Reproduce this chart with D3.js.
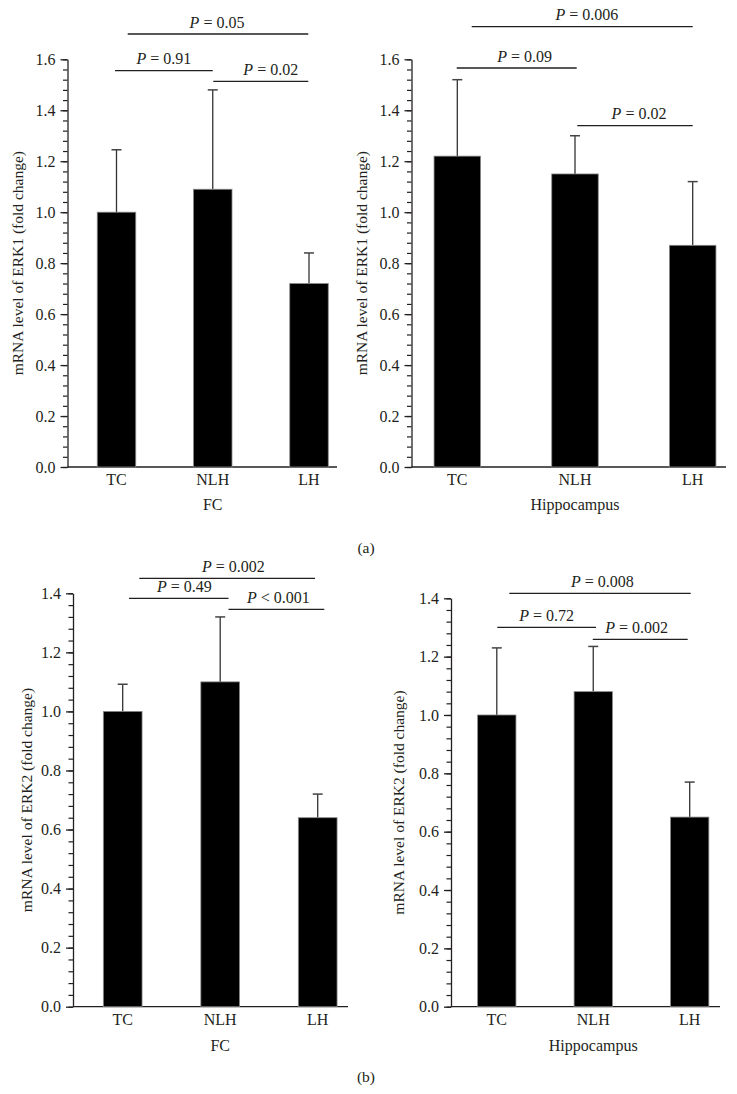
<!DOCTYPE html>
<html><head><meta charset="utf-8">
<script src="https://cdn.jsdelivr.net/npm/d3@7"></script>
<style>
body{margin:0;background:#fff}
svg{display:block}
text{font-family:"Liberation Serif","Times New Roman",serif;fill:#231f20}
</style>
</head><body>
<svg id="chart" width="737" height="1094"></svg>
<script>
// ---------------- data ----------------
const categories = ["TC", "NLH", "LH"];

const erk1FcMean  = [1.00, 1.09, 0.72];
const erk1FcSD    = [0.245, 0.39, 0.12];
const erk1HipMean = [1.22, 1.15, 0.87];
const erk1HipSD   = [0.30, 0.15, 0.25];
const erk2FcMean  = [1.00, 1.10, 0.64];
const erk2FcSD    = [0.092, 0.22, 0.08];
const erk2HipMean = [1.00, 1.08, 0.65];
const erk2HipSD   = [0.23, 0.155, 0.12];

const yTicksA = [0.0, 0.2, 0.4, 0.6, 0.8, 1.0, 1.2, 1.4, 1.6];
const yTicksB = [0.0, 0.2, 0.4, 0.6, 0.8, 1.0, 1.2, 1.4];

const comparePairs = [[0, 1], [1, 2], [0, 2]];
const erk1FcP  = ["= 0.91", "= 0.02", "= 0.05"];
const erk1HipP = ["= 0.09", "= 0.02", "= 0.006"];
const erk2FcP  = ["= 0.49", "< 0.001", "= 0.002"];
const erk2HipP = ["= 0.72", "= 0.002", "= 0.008"];

const yTitles = ["mRNA level of ERK1 (fold change)", "mRNA level of ERK2 (fold change)"];
const xTitles = ["FC", "Hippocampus"];
const panelTags = ["(a)", "(b)"];

// ---------------- layout ----------------
const panels = [
  {mean: erk1FcMean, sd: erk1FcSD, ticks: yTicksA, p: erk1FcP, yTitle: yTitles[0], xTitle: xTitles[0],
   axisX: 67.5, yTop: 59.3, y0: 467, xEnd: 337, c0: 116.5, c2: 309, barW: 38.5, titleX: 23,
   catY: 485, xTitleY: 510,
   br: [{y: 70.7, a: -1.5, b: 0, t: 0}, {y: 81.3, a: 0.5, b: -0.7, t: 10}, {y: 34, a: 11.2, b: -0.7, t: -1}]},
  {mean: erk1HipMean, sd: erk1HipSD, ticks: yTicksA, p: erk1HipP, yTitle: yTitles[0], xTitle: xTitles[1],
   axisX: 411.5, yTop: 59.3, y0: 467, xEnd: 726, c0: 457.3, c2: 692.7, barW: 46.5, titleX: 367,
   catY: 485, xTitleY: 510,
   br: [{y: 68, a: -0.6, b: 1.7, t: 8}, {y: 125.7, a: 2.3, b: 0, t: 4}, {y: 26.7, a: 14.4, b: 0, t: 4.7}]},
  {mean: erk2FcMean, sd: erk2FcSD, ticks: yTicksB, p: erk2FcP, yTitle: yTitles[1], xTitle: xTitles[0],
   axisX: 73, yTop: 593.3, y0: 1006.7, xEnd: 348, c0: 122.7, c2: 317.7, barW: 38.7, titleX: 32,
   catY: 1025, xTitleY: 1051,
   br: [{y: 598.3, a: 6.3, b: 8.3, t: 5.6}, {y: 609.3, a: 8.3, b: 6.6, t: 2}, {y: 578.3, a: 16.6, b: -2.7, t: 6.3}]},
  {mean: erk2HipMean, sd: erk2HipSD, ticks: yTicksB, p: erk2HipP, yTitle: yTitles[1], xTitle: xTitles[1],
   axisX: 451, yTop: 598.3, y0: 1006.7, xEnd: 720, c0: 496.8, c2: 689.7, barW: 38.3, titleX: 404,
   catY: 1025, xTitleY: 1051,
   br: [{y: 627.3, a: 0.5, b: 2.8, t: 0}, {y: 639.3, a: -0.5, b: -2, t: -3.5}, {y: 593.3, a: 12.5, b: 1, t: 2.3}]}
];
const tagPos = [{x: 366, y: 553}, {x: 366, y: 1082}];

const svg = d3.select("#chart");
const FS = 16;

panels.forEach(P => {
  const yMax = P.ticks[P.ticks.length - 1];
  const y = d3.scaleLinear().domain([0, yMax]).range([P.y0, P.yTop]);
  const x = d3.scalePoint().domain(categories).range([P.c0, P.c2]);
  const g = svg.append("g");

  // minor ticks
  const minor = d3.range(0, yMax + 1e-9, 0.04);
  g.append("g").attr("transform", `translate(${P.axisX},0)`)
    .call(d3.axisLeft(y).tickValues(minor).tickSize(4.5).tickFormat(""))
    .call(s => { s.select(".domain").remove(); s.selectAll("line").attr("stroke", "#231f20").attr("stroke-width", 1.2); });

  // major axis
  g.append("g").attr("transform", `translate(${P.axisX},0)`)
    .call(d3.axisLeft(y).tickValues(P.ticks).tickSize(7).tickSizeOuter(0).tickPadding(5).tickFormat(d3.format(".1f")))
    .call(s => {
      s.select(".domain").attr("stroke", "#231f20").attr("stroke-width", 1.3);
      s.selectAll("line").attr("stroke", "#231f20").attr("stroke-width", 1.3);
      s.selectAll("text").attr("font-family", "Liberation Serif").attr("font-size", FS).attr("fill", "#231f20");
    });

  // x axis line
  g.append("line").attr("x1", P.axisX).attr("x2", P.xEnd).attr("y1", P.y0).attr("y2", P.y0)
    .attr("stroke", "#231f20").attr("stroke-width", 1.3);

  const rows = categories.map((c, i) => ({c, m: P.mean[i], s: P.sd[i]}));

  // error bars
  g.selectAll(".eb").data(rows).enter().append("line")
    .attr("x1", d => x(d.c)).attr("x2", d => x(d.c))
    .attr("y1", d => y(d.m)).attr("y2", d => y(d.m + d.s))
    .attr("stroke", "#333").attr("stroke-width", 1.3);
  g.selectAll(".cap").data(rows).enter().append("line")
    .attr("x1", d => x(d.c) - 5).attr("x2", d => x(d.c) + 5)
    .attr("y1", d => y(d.m + d.s)).attr("y2", d => y(d.m + d.s))
    .attr("stroke", "#444").attr("stroke-width", 1.5);

  // bars
  g.selectAll(".bar").data(rows).enter().append("rect")
    .attr("x", d => x(d.c) - P.barW / 2).attr("width", P.barW)
    .attr("y", d => y(d.m)).attr("height", d => y(0) - y(d.m))
    .attr("fill", "#000").attr("stroke", "#888").attr("stroke-width", 0.8);

  // category labels
  g.selectAll(".cat").data(categories).enter().append("text")
    .attr("x", d => x(d)).attr("y", P.catY).attr("text-anchor", "middle")
    .attr("font-size", FS).text(d => d);

  // x title
  g.append("text").attr("x", x(categories[1])).attr("y", P.xTitleY).attr("text-anchor", "middle")
    .attr("font-size", FS).text(P.xTitle);

  // y title
  g.append("text").attr("transform", `translate(${P.titleX},${(P.y0 + P.yTop) / 2}) rotate(-90)`)
    .attr("text-anchor", "middle").attr("font-size", 15.5).text(P.yTitle);

  // significance brackets
  comparePairs.forEach((pr, k) => {
    const L = P.br[k];
    const xa = x(categories[pr[0]]) + L.a, xb = x(categories[pr[1]]) + L.b;
    g.append("line").attr("x1", xa).attr("x2", xb).attr("y1", L.y).attr("y2", L.y)
      .attr("stroke", "#231f20").attr("stroke-width", 1.3);
    const t = g.append("text").attr("x", (xa + xb) / 2 + L.t).attr("y", L.y - 6.5)
      .attr("text-anchor", "middle").attr("font-size", FS);
    t.append("tspan").attr("font-style", "italic").text("P");
    t.append("tspan").text(" " + P.p[k]);
  });
});

svg.selectAll(".tag").data(panelTags).enter().append("text")
  .attr("x", (d, i) => tagPos[i].x).attr("y", (d, i) => tagPos[i].y)
  .attr("text-anchor", "middle").attr("font-size", 15.5).text(d => d);
</script>
</body></html>
